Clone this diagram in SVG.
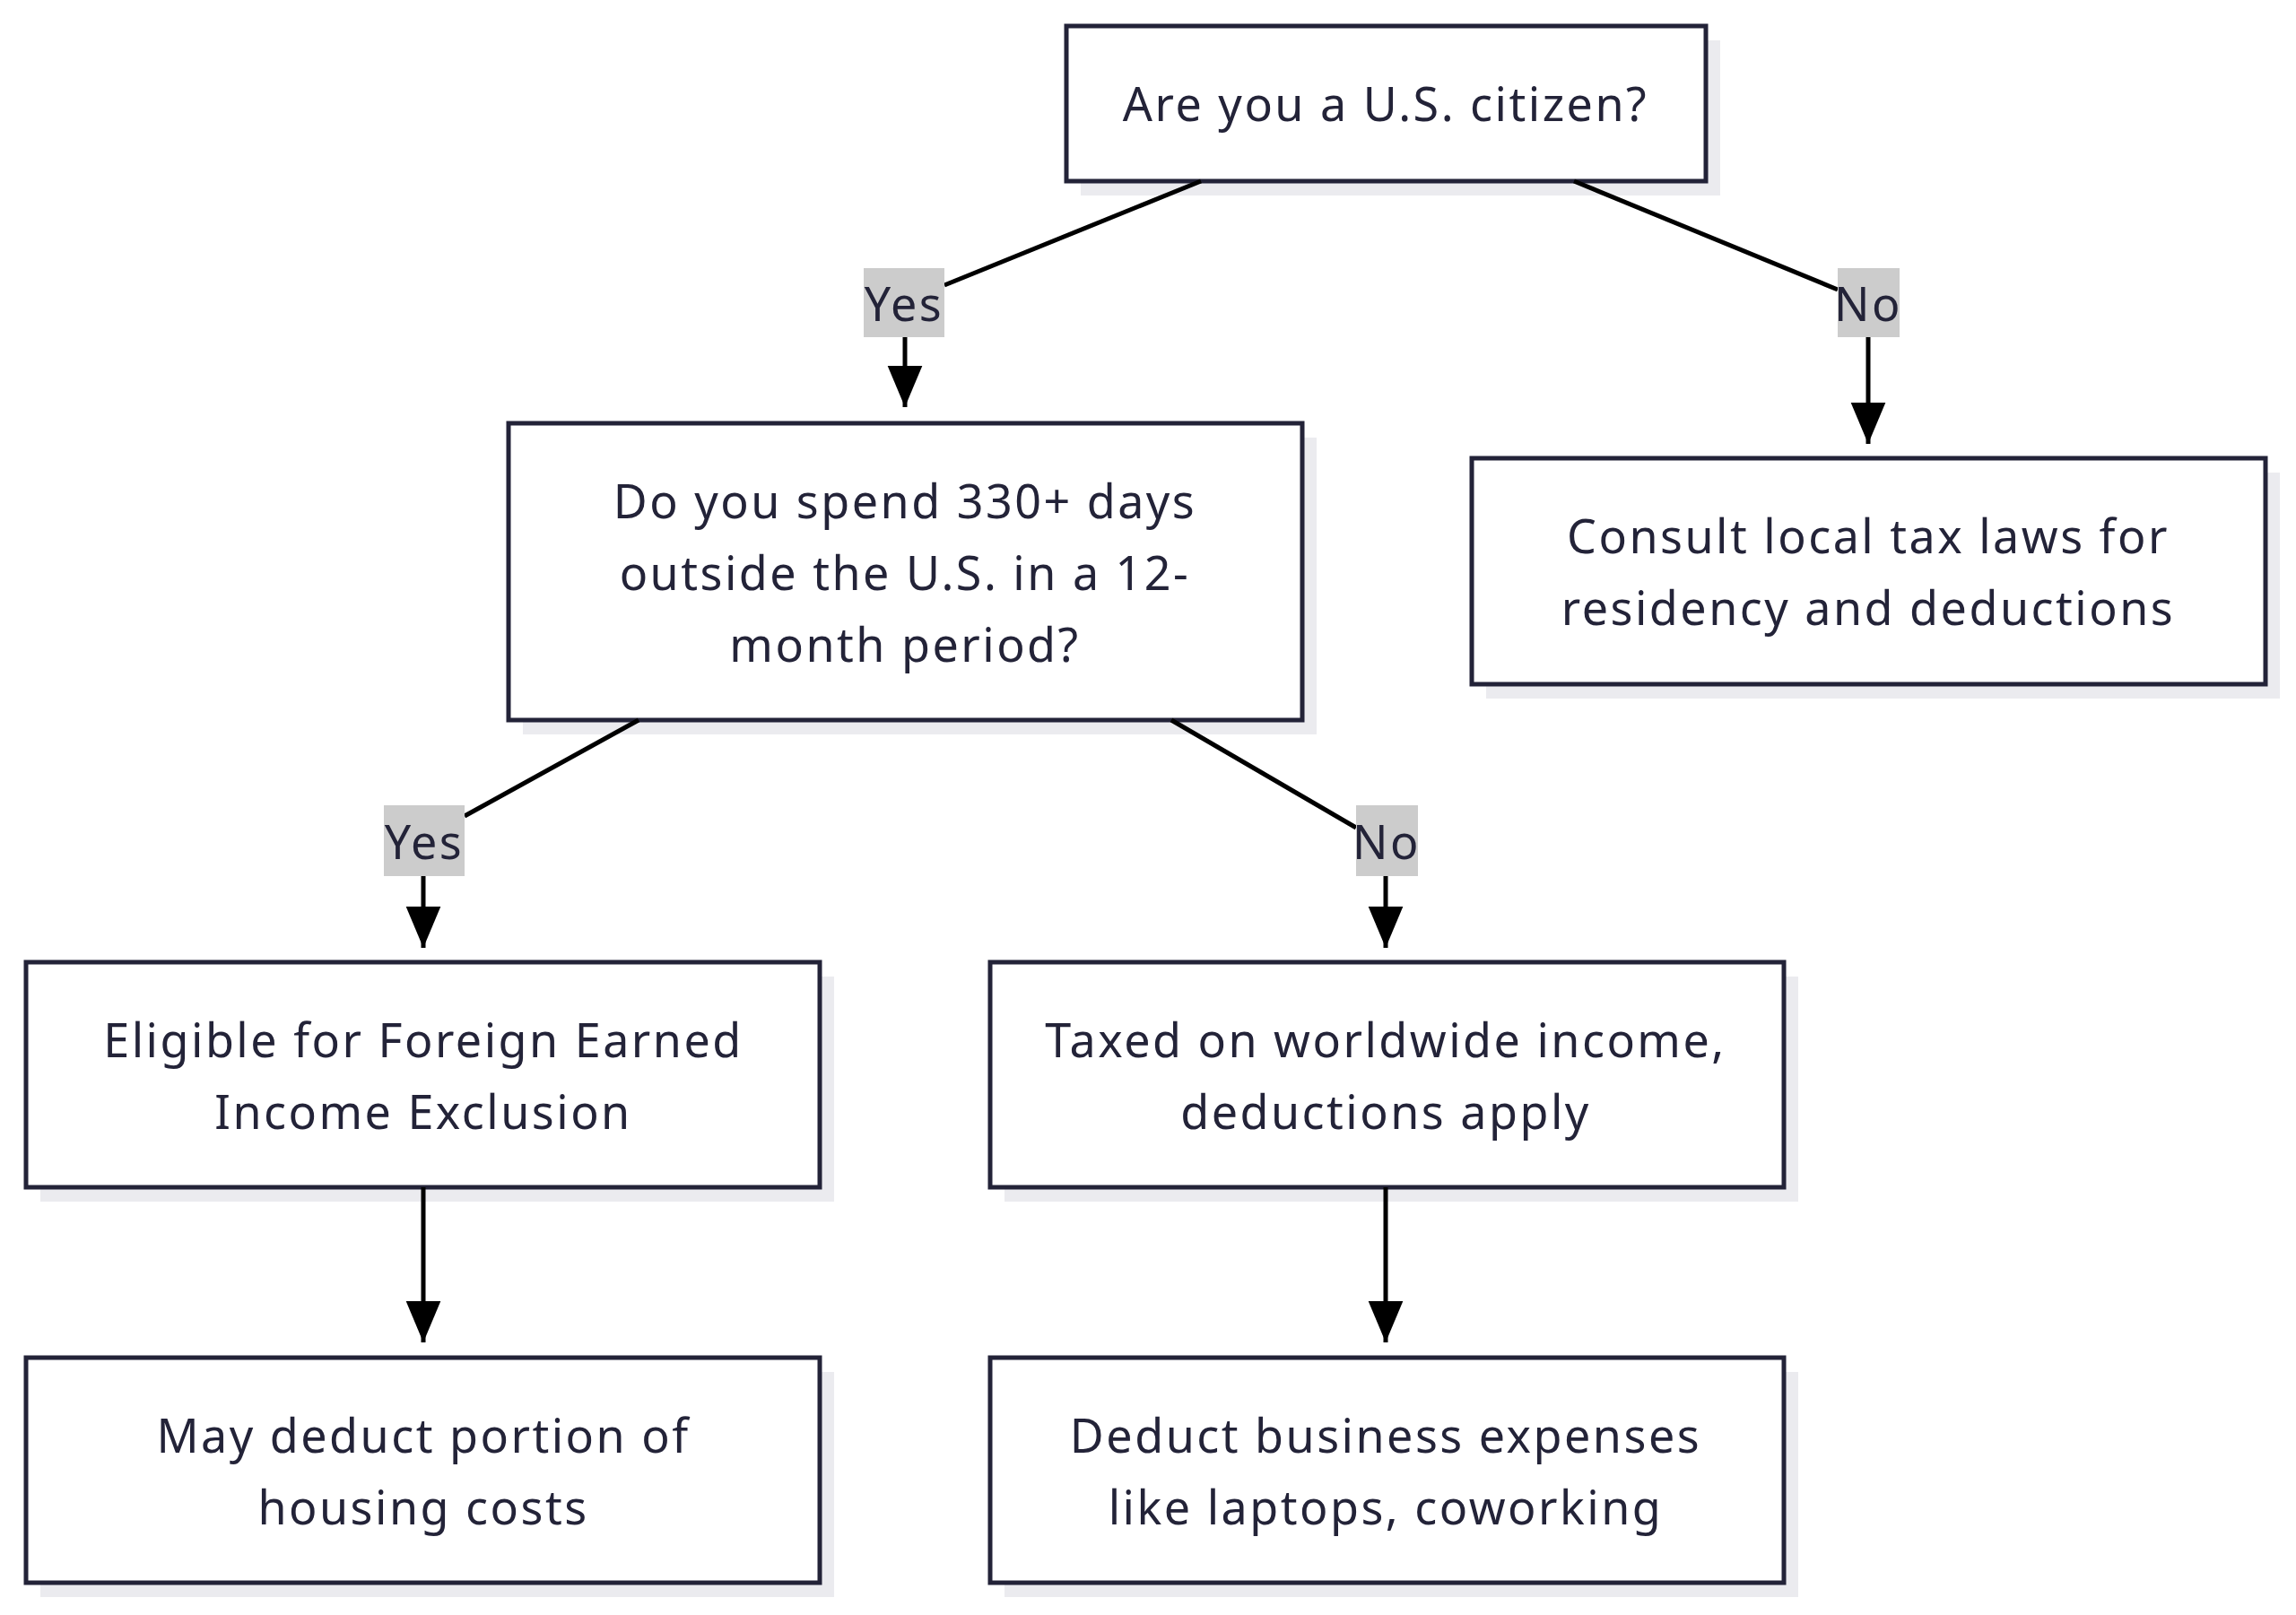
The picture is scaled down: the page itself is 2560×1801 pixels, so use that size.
<svg xmlns="http://www.w3.org/2000/svg" width="2560" height="1801" viewBox="0 0 2560 1801">
<style>
.box{fill:#fff;stroke:#232338;stroke-width:5}
.sh{fill:#ebebef}
text{font-family:"Noto Sans","Liberation Sans",sans-serif;font-size:52px;letter-spacing:2.5px;fill:#232338;text-anchor:middle;dominant-baseline:central}
.lbl{fill:#cccccc}
.e{stroke:#000;stroke-width:5;fill:none}
</style>
<defs>
<marker id="a" viewBox="0 0 10 10" refX="10" refY="5" markerWidth="46" markerHeight="46" markerUnits="userSpaceOnUse" orient="auto"><path d="M0,0.8L10,5L0,9.2z" fill="#000"/></marker></defs>
<rect width="2560" height="1801" fill="#fff"/>
<g id="A"><rect class="sh" x="1205" y="45" width="713" height="173"/><rect class="box" x="1189" y="29" width="713" height="173"/><text x="1545" y="114">Are you a U.S. citizen?</text></g>
<g id="B"><rect class="sh" x="583" y="488" width="885" height="331"/><rect class="box" x="567" y="472" width="885" height="331"/><text x="1009" y="557">Do you spend 330+ days</text><text x="1009" y="637">outside the U.S. in a 12-</text><text x="1009" y="717">month period?</text></g>
<g id="C"><rect class="sh" x="1657" y="527" width="885" height="252"/><rect class="box" x="1641" y="511" width="885" height="252"/><text x="2083" y="596">Consult local tax laws for</text><text x="2083" y="676">residency and deductions</text></g>
<g id="D"><rect class="sh" x="45" y="1089" width="885" height="251"/><rect class="box" x="29" y="1073" width="885" height="251"/><text x="472" y="1158">Eligible for Foreign Earned</text><text x="472" y="1238">Income Exclusion</text></g>
<g id="E"><rect class="sh" x="1120" y="1089" width="885" height="251"/><rect class="box" x="1104" y="1073" width="885" height="251"/><text x="1545" y="1158">Taxed on worldwide income,</text><text x="1545" y="1238">deductions apply</text></g>
<g id="F"><rect class="sh" x="45" y="1530" width="885" height="251"/><rect class="box" x="29" y="1514" width="885" height="251"/><text x="472" y="1599">May deduct portion of</text><text x="472" y="1679">housing costs</text></g>
<g id="G"><rect class="sh" x="1120" y="1530" width="885" height="251"/><rect class="box" x="1104" y="1514" width="885" height="251"/><text x="1545" y="1599">Deduct business expenses</text><text x="1545" y="1679">like laptops, coworking</text></g>
<g id="edges">
<path class="e" d="M1339,202L1053,318"/><rect class="lbl" x="963" y="299" width="90" height="77"/><text x="1008" y="337">Yes</text><path class="e" d="M1009,376V454" marker-end="url(#a)"/>
<path class="e" d="M1755,202L2049,323"/><rect class="lbl" x="2049" y="299" width="69" height="77"/><text x="2083" y="337">No</text><path class="e" d="M2083,376V495" marker-end="url(#a)"/>
<path class="e" d="M712,803L518,910"/><rect class="lbl" x="428" y="898" width="90" height="79"/><text x="473" y="937">Yes</text><path class="e" d="M472,977V1057" marker-end="url(#a)"/>
<path class="e" d="M1306,803L1512,923"/><rect class="lbl" x="1512" y="898" width="69" height="79"/><text x="1546" y="937">No</text><path class="e" d="M1545,977V1057" marker-end="url(#a)"/>
<path class="e" d="M472,1324V1497" marker-end="url(#a)"/>
<path class="e" d="M1545,1324V1497" marker-end="url(#a)"/>
</g>
</svg>
